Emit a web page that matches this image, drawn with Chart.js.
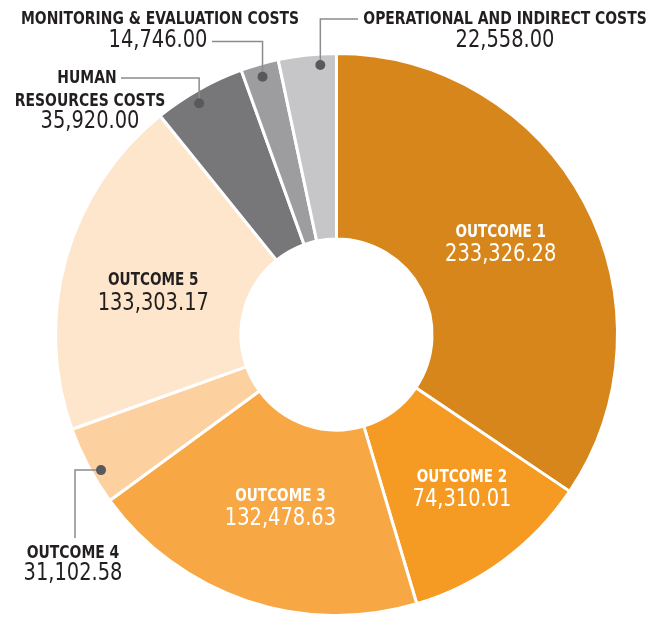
<!DOCTYPE html>
<html>
<head>
<meta charset="utf-8">
<script src="https://cdn.jsdelivr.net/npm/chart.js@4"></script>
<style>
  body { margin: 0; background: #fff; }
  #wrap { width: 660px; height: 617px; position: relative; }
</style>
</head>
<body>
<div id="wrap"><canvas id="myChart"></canvas></div>
<script>
// budget split
const categories = ['OUTCOME 1', 'OUTCOME 2', 'OUTCOME 3', 'OUTCOME 4', 'OUTCOME 5',
  'HUMAN RESOURCES COSTS', 'MONITORING & EVALUATION COSTS', 'OPERATIONAL AND INDIRECT COSTS'];
const values = [233326.28, 74310.01, 132478.63, 31102.58, 133303.17, 35920.00, 14746.00, 22558.00];
const colors = ['#d6861a', '#f59a23', '#f7a744', '#fcd19f', '#fee6cc', '#777779', '#9d9da0', '#c6c6c8'];

const TITLE_FONT = 'bold 18px "Liberation Sans Narrow", "DejaVu Sans Condensed", "Roboto", sans-serif';
const VALUE_FONT = '24px "Liberation Sans Narrow", "DejaVu Sans Condensed", "Roboto", sans-serif';

function fmt(v) {
  return v.toLocaleString('en-US', { minimumFractionDigits: 2, maximumFractionDigits: 2 });
}

// squeeze text sideways, the original uses a condensed face
function squeezed(ctx, text, x, y, sx) {
  ctx.save();
  ctx.translate(x, y);
  ctx.scale(sx, 1);
  ctx.fillText(text, 0, 0);
  ctx.restore();
}

// small nudges for the labels inside the ring
const nudge = { 0: [-2, -3], 1: [14, 2], 2: [4, -6], 4: [-2, 8] };

// labels that sit outside the ring, with a leader line
const outside = {
  3: { titles: ['OUTCOME 4'], x: 73, ty: 553, vy: 574, lead: 'h', ex: 75, ey: 538, dot: [3, 9] },
  5: { titles: ['HUMAN', 'RESOURCES COSTS'], tx: [87, 90], x: 90, ty: 78, vy: 122, lead: 'v', ex: 121, ey: 78, dot: [-5, 4] },
  6: { titles: ['MONITORING & EVALUATION COSTS'], tx: [160], x: 158, ty: 19, vy: 41, lead: 'v', ex: 212, ey: 41.5, dot: [0, 2] },
  7: { titles: ['OPERATIONAL AND INDIRECT COSTS'], tx: [505], x: 505, ty: 19, vy: 41, lead: 'v', ex: 358, ey: 19, dot: [12, -1] }
};

const labelPlugin = {
  id: 'labels',
  afterDatasetsDraw(chart) {
    const ctx = chart.ctx;
    const meta = chart.getDatasetMeta(0);
    ctx.save();
    ctx.textAlign = 'center';
    ctx.textBaseline = 'middle';
    meta.data.forEach((arc, i) => {
      const p = arc.getProps(['x', 'y', 'startAngle', 'endAngle', 'outerRadius'], true);
      const o = outside[i];
      if (!o) {
        const c = arc.tooltipPosition(true);
        const n = nudge[i] || [0, 0];
        ctx.fillStyle = i === 4 ? '#231f20' : '#ffffff';
        ctx.font = TITLE_FONT;
        squeezed(ctx, categories[i], c.x + n[0], c.y + n[1] - 11, 0.84);
        ctx.font = VALUE_FONT;
        squeezed(ctx, fmt(values[i]), c.x + n[0], c.y + n[1] + 12, 0.9);
        return;
      }
      const mid = (p.startAngle + p.endAngle) / 2;
      const r = p.outerRadius - 11;
      const dx = p.x + Math.cos(mid) * r + o.dot[0];
      const dy = p.y + Math.sin(mid) * r + o.dot[1];

      ctx.strokeStyle = '#8c8c8e';
      ctx.lineWidth = 1.5;
      ctx.beginPath();
      ctx.moveTo(dx, dy);
      if (o.lead === 'v') {
        ctx.lineTo(dx, o.ey);
        ctx.lineTo(o.ex, o.ey);
      } else {
        ctx.lineTo(o.ex, dy);
        ctx.lineTo(o.ex, o.ey);
      }
      ctx.stroke();
      ctx.fillStyle = '#58595b';
      ctx.beginPath();
      ctx.arc(dx, dy, 5, 0, Math.PI * 2);
      ctx.fill();

      ctx.fillStyle = '#231f20';
      ctx.font = TITLE_FONT;
      o.titles.forEach((t, k) => {
        const tx = o.tx ? o.tx[k] : o.x;
        squeezed(ctx, t, tx, o.ty + k * 23, 0.86);
      });
      ctx.font = VALUE_FONT;
      squeezed(ctx, fmt(values[i]), o.x, o.vy, 0.9);
    });
    ctx.restore();
  }
};

const ctx = document.getElementById('myChart').getContext('2d');
const chart = new Chart(ctx, {
  type: 'doughnut',
  data: {
    labels: categories,
    datasets: [{
      data: values,
      backgroundColor: colors,
      borderColor: '#ffffff',
      borderWidth: 3
    }]
  },
  options: {
    responsive: true,
    maintainAspectRatio: false,
    animation: false,
    events: [],
    cutout: '34%',
    layout: { padding: { left: 54, top: 52, right: 41, bottom: 0 } },
    plugins: {
      legend: { display: false },
      tooltip: { enabled: false }
    }
  },
  plugins: [labelPlugin]
});
</script>
</body>
</html>
